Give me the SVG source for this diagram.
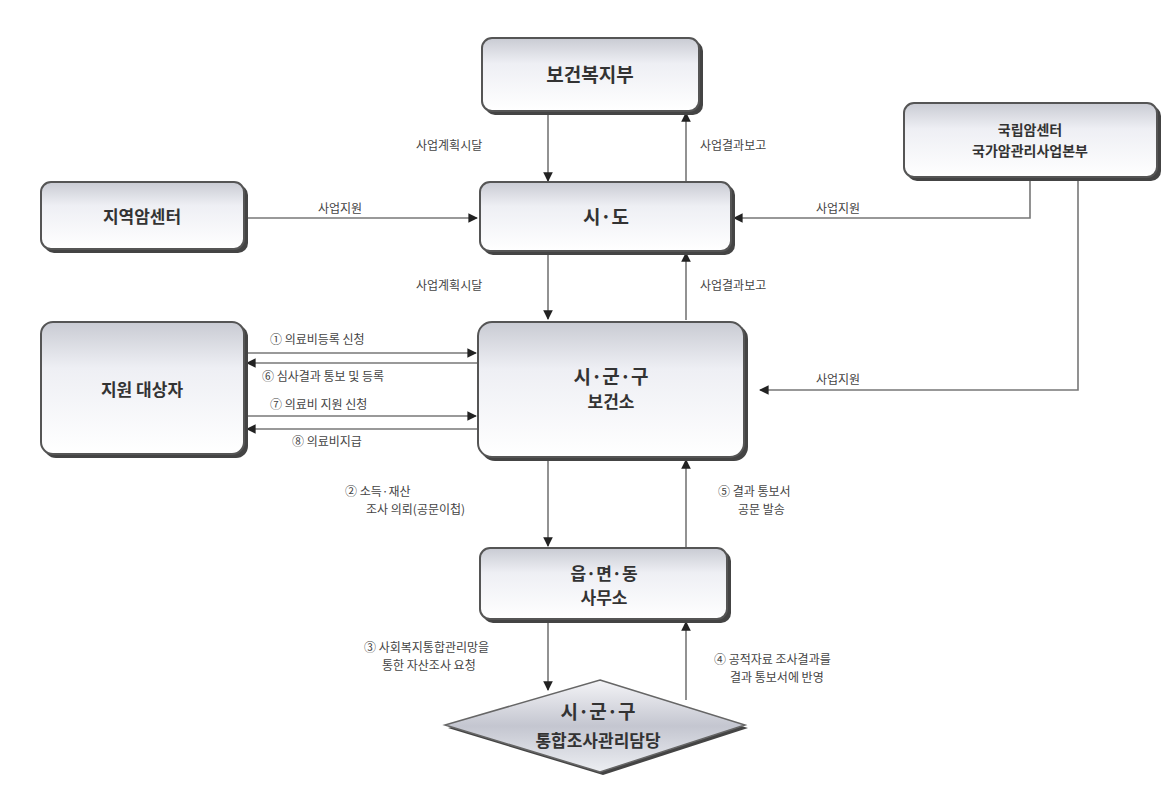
<svg xmlns="http://www.w3.org/2000/svg" width="1176" height="786" viewBox="0 0 1176 786">
<defs>
<linearGradient id="g" x1="0" y1="0" x2="0" y2="1">
<stop offset="0" stop-color="#c9cbd3"/>
<stop offset="0.35" stop-color="#eeeff4"/>
<stop offset="1" stop-color="#ffffff"/>
</linearGradient>
<linearGradient id="gd" x1="0" y1="0" x2="0" y2="1">
<stop offset="0" stop-color="#f4f4f7"/>
<stop offset="0.5" stop-color="#c4c6d0"/>
<stop offset="1" stop-color="#eceef2"/>
</linearGradient>
<marker id="a" viewBox="0 0 10 10" refX="9" refY="5" markerWidth="6" markerHeight="6" orient="auto-start-reverse">
<path d="M0,0 L10,5 L0,10 z" fill="#222"/>
</marker>
</defs>
<style>
.box{fill:url(#g);stroke:#555;stroke-width:2}
.sh{fill:#444}
.t{font-family:"Noto Sans CJK KR","Noto Sans",sans-serif;font-weight:bold;fill:#333;text-anchor:middle}
.l{font-family:"Noto Sans CJK KR","Noto Sans",sans-serif;font-size:12px;fill:#444}
.c{stroke:#777;stroke-width:1.6;fill:none;marker-end:url(#a)}
</style>
<rect width="1176" height="786" fill="#fff"/>
<g id="connectors">
<path class="c" d="M548,112 V181"/>
<path class="c" d="M686,182 V113"/>
<path class="c" d="M245,218 H477"/>
<path class="c" d="M1030,178 V218 H734"/>
<path class="c" d="M548,252 V319"/>
<path class="c" d="M686,320 V253"/>
<path class="c" d="M1078,178 V390 H760"/>
<path class="c" d="M245,353 H476"/>
<path class="c" d="M478,363 H247"/>
<path class="c" d="M245,416 H476"/>
<path class="c" d="M478,429 H247"/>
<path class="c" d="M548,458 V546"/>
<path class="c" d="M686,548 V460"/>
<path class="c" d="M548,620 V690"/>
<path class="c" d="M686,700 V622"/>
<text class="l" x="416" y="150">사업계획시달</text>
<text class="l" x="700" y="150">사업결과보고</text>
<text class="l" x="318" y="213">사업지원</text>
<text class="l" x="816" y="213">사업지원</text>
<text class="l" x="416" y="290">사업계획시달</text>
<text class="l" x="700" y="290">사업결과보고</text>
<text class="l" x="816" y="384">사업지원</text>
<text class="l" x="270" y="344">① 의료비등록 신청</text>
<text class="l" x="262" y="381">⑥ 심사결과 통보 및 등록</text>
<text class="l" x="270" y="409">⑦ 의료비 지원 신청</text>
<text class="l" x="292" y="446">⑧ 의료비지급</text>
<text class="l" x="345" y="496">② 소득·재산</text>
<text class="l" x="366" y="514">조사 의뢰(공문이첩)</text>
<text class="l" x="718" y="496">⑤ 결과 통보서</text>
<text class="l" x="738" y="514">공문 발송</text>
<text class="l" x="364" y="652">③ 사회복지통합관리망을</text>
<text class="l" x="382" y="670">통한 자산조사 요청</text>
<text class="l" x="714" y="664">④ 공적자료 조사결과를</text>
<text class="l" x="730" y="682">결과 통보서에 반영</text>
</g>
<g id="n1">
<rect class="sh" x="485" y="41" width="218" height="74" rx="10"/>
<rect class="box" x="482" y="38" width="217" height="73" rx="10"/>
<text class="t" x="590" y="82" font-size="19">보건복지부</text>
</g>
<g id="n2">
<rect class="sh" x="907" y="106" width="254" height="75" rx="10"/>
<rect class="box" x="904" y="103" width="253" height="74" rx="10"/>
<text class="t" x="1030" y="135" font-size="14">국립암센터</text>
<text class="t" x="1030" y="156" font-size="14">국가암관리사업본부</text>
</g>
<g id="n3">
<rect class="sh" x="44" y="185" width="204" height="68" rx="10"/>
<rect class="box" x="41" y="182" width="203" height="67" rx="10"/>
<text class="t" x="142" y="223" font-size="17">지역암센터</text>
</g>
<g id="n4">
<rect class="sh" x="483" y="185" width="252" height="70" rx="10"/>
<rect class="box" x="480" y="182" width="251" height="69" rx="10"/>
<text class="t" x="606" y="224" font-size="19">시·도</text>
</g>
<g id="n5">
<rect class="sh" x="44" y="325" width="204" height="133" rx="12"/>
<rect class="box" x="41" y="322" width="203" height="132" rx="12"/>
<text class="t" x="142" y="396" font-size="17">지원 대상자</text>
</g>
<g id="n6">
<rect class="sh" x="481" y="325" width="267" height="136" rx="14"/>
<rect class="box" x="478" y="322" width="266" height="135" rx="14"/>
<text class="t" x="611" y="384" font-size="19">시·군·구</text>
<text class="t" x="611" y="408" font-size="17">보건소</text>
</g>
<g id="n7">
<rect class="sh" x="483" y="551" width="248" height="72" rx="10"/>
<rect class="box" x="480" y="548" width="247" height="71" rx="10"/>
<text class="t" x="604" y="580" font-size="17">읍·면·동</text>
<text class="t" x="604" y="604" font-size="17">사무소</text>
</g>
<g id="n8">
<path d="M603,684 L748,728 L603,775 L448,728 z" fill="#444"/>
<path d="M600,680 L745,725 L600,772 L445,725 z" fill="url(#gd)" stroke="#666" stroke-width="1.5"/>
<text class="t" x="598" y="719" font-size="19">시·군·구</text>
<text class="t" x="598" y="747" font-size="17">통합조사관리담당</text>
</g>
</svg>
